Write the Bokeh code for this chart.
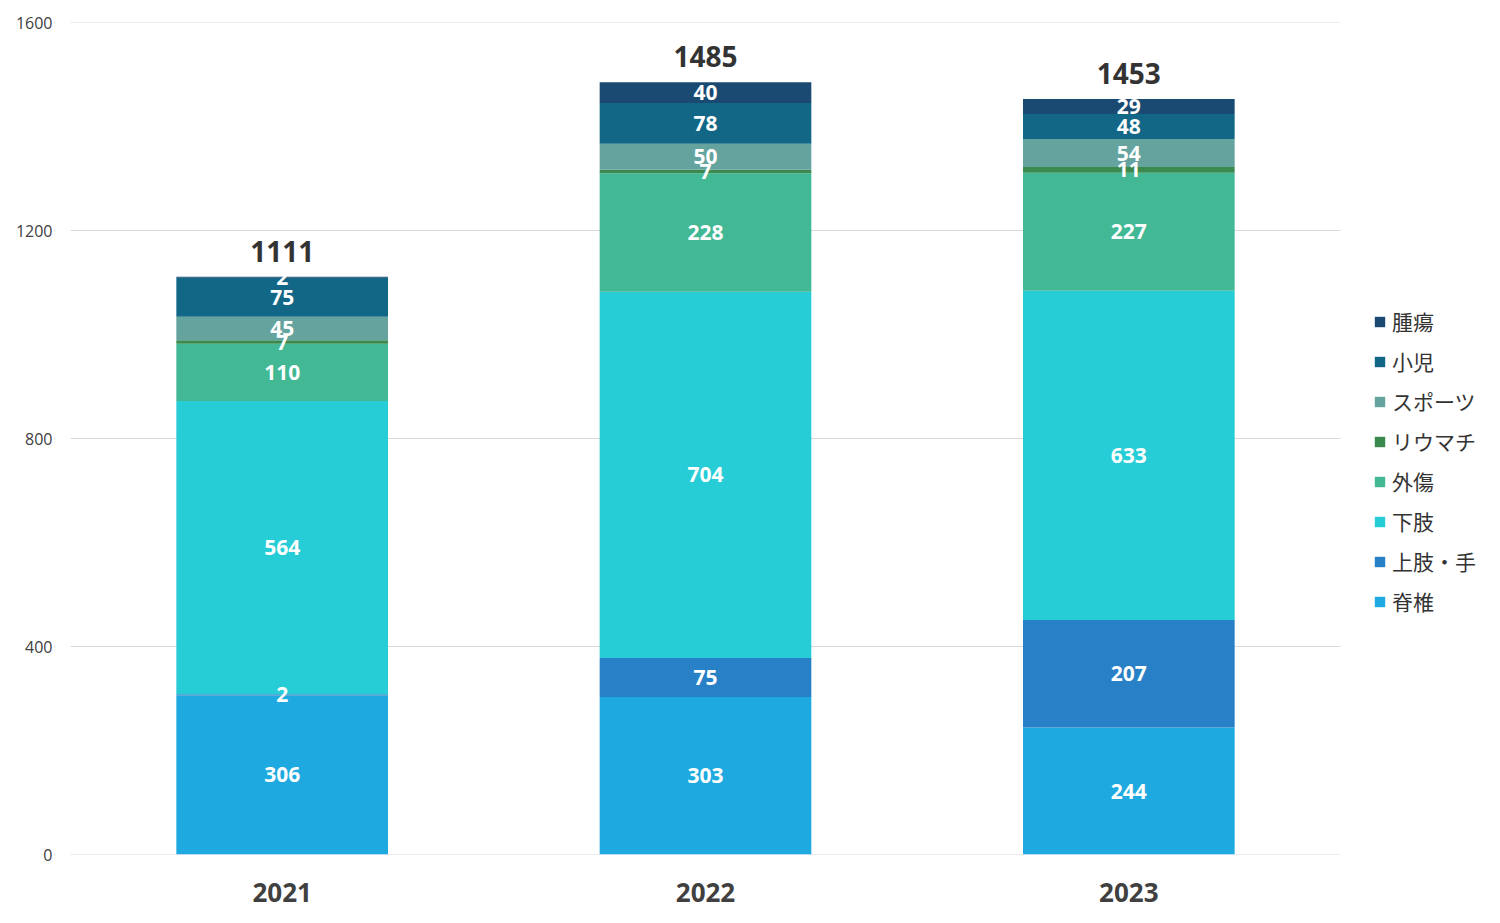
from bokeh.plotting import figure
from bokeh.models import ColumnDataSource, Legend, LegendItem, FixedTicker, Range1d
from bokeh.core.properties import value
from bokeh.embed import file_html
from bokeh.resources import INLINE

years = ["2021", "2022", "2023"]
categories = ["脊椎", "上肢・手", "下肢", "外傷", "リウマチ", "スポーツ", "小児", "腫瘍"]
spine = [306, 303, 244]
upper = [2, 75, 207]
lower = [564, 704, 633]
trauma = [110, 228, 227]
rheum = [7, 7, 11]
sports = [45, 50, 54]
pediatric = [75, 78, 48]
tumor = [2, 40, 29]
totals = [1111, 1485, 1453]
y_ticks = [0, 400, 800, 1200, 1600]
colors = ["#1eaae0", "#2880c6", "#27cdd6", "#42b895", "#3a8a50", "#64a39e", "#126686", "#1a4a72"]

series = [spine, upper, lower, trauma, rheum, sports, pediatric, tumor]
keys = ["s%d" % i for i in range(len(series))]
xpos = [i + 0.5 for i in range(len(years))]
data = {"x": xpos}
for k, s in zip(keys, series):
    data[k] = s
src = ColumnDataSource(data)

W, H = 1484, 913
left, top, bottom, right = 70, 22, 59, 4
frame_w = W - left - right
x_end = frame_w / ((1340 - 70) / 3.0)

p = figure(x_range=Range1d(0, x_end), y_range=Range1d(0, 1600), width=W, height=H,
           output_backend="svg", toolbar_location=None,
           min_border_left=left, min_border_top=top, min_border_bottom=bottom, min_border_right=right)
p.outline_line_color = None
p.background_fill_color = "white"
p.border_fill_color = "white"

# gridlines limited to the category area
n = len(years)
p.segment(x0=[0] * len(y_ticks), x1=[n] * len(y_ticks), y0=y_ticks, y1=y_ticks,
          line_color="#d9d9d9", line_width=1)

renderers = p.vbar_stack(keys, x="x", width=0.5, color=colors, source=src, line_color=None)

# segment labels
lx, ly, lt = [], [], []
for j in range(len(years)):
    base = 0
    for s in series:
        v = s[j]
        lx.append(xpos[j])
        ly.append(base + v / 2)
        lt.append(str(v))
        base += v
p.text(x=lx, y=ly, text=lt, text_color="white", text_font=value("Open Sans"),
       text_font_style="bold", text_font_size="21px", text_align="center", text_baseline="middle")

p.text(x=xpos, y=totals, text=[str(t) for t in totals], text_color="#333333",
       text_font=value("Open Sans"), text_font_style="bold", text_font_size="28px",
       text_align="center", text_baseline="bottom", y_offset=-15)

p.yaxis.ticker = FixedTicker(ticks=y_ticks)
p.yaxis.axis_line_color = None
p.yaxis.major_tick_line_color = None
p.yaxis.minor_tick_line_color = None
p.yaxis.major_label_text_font = "Open Sans"
p.yaxis.major_label_text_font_size = "16px"
p.yaxis.major_label_text_color = "#404040"
p.yaxis.major_label_standoff = 12

p.xaxis.ticker = FixedTicker(ticks=xpos)
p.xaxis.major_label_overrides = {x: y for x, y in zip(xpos, years)}
p.xaxis.axis_line_color = None
p.xaxis.major_tick_line_color = None
p.xaxis.minor_tick_line_color = None
p.xaxis.major_label_text_font = "Open Sans"
p.xaxis.major_label_text_font_style = "bold"
p.xaxis.major_label_text_font_size = "26px"
p.xaxis.major_label_text_color = "#404040"
p.xaxis.major_label_standoff = 22

p.xgrid.grid_line_color = None
p.ygrid.grid_line_color = None

items = [LegendItem(label=c, renderers=[r]) for c, r in zip(categories, renderers)][::-1]
legend = Legend(items=items, location=(1303, 238), border_line_color=None,
                background_fill_alpha=0,
                label_text_font="Noto Sans CJK JP", label_text_font_size="21px",
                label_text_color="#333333", glyph_width=13, glyph_height=13,
                label_height=24, spacing=10, padding=0, margin=0, label_standoff=6)
p.add_layout(legend, "center")

open("out.html", "w").write(file_html(p, INLINE))
